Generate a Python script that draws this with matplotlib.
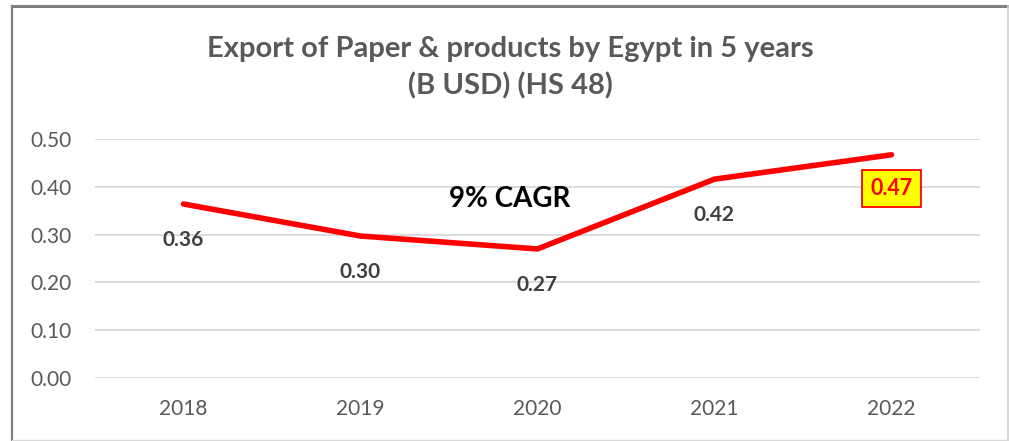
import matplotlib
matplotlib.use("Agg")
import matplotlib.pyplot as plt
from matplotlib.lines import Line2D

years = ["2018", "2019", "2020", "2021", "2022"]
exports = [0.364, 0.297, 0.270, 0.416, 0.467]
y_ticks = [0.0, 0.1, 0.2, 0.3, 0.4, 0.5]

title = "Export of Paper & products by Egypt in 5 years\n(B USD) (HS 48)"
note = "9% CAGR"

W, H = 1009, 441
fig = plt.figure(figsize=(W / 100, H / 100), dpi=100)
plt.rcParams['font.family'] = ['Lato', 'DejaVu Sans']

ax = fig.add_axes([95 / W, 1 - 378 / H, (980 - 95) / W, (378 - 139) / H])
x = list(range(len(years)))
ax.plot(x, exports, color="#ff0000", lw=4.0, solid_capstyle="round",
        solid_joinstyle="miter", zorder=3)

ax.set_xlim(-0.5, len(years) - 0.5)
ax.set_ylim(0, 0.5)
ax.set_yticks(y_ticks)
ax.set_yticklabels([f"{v:.2f}" for v in y_ticks])
ax.set_xticks(x)
ax.set_xticklabels(years)
ax.tick_params(length=0, labelsize=15, colors="#595959")
ax.tick_params(axis="y", pad=17)
ax.tick_params(axis="x", pad=15)
for s in ax.spines.values():
    s.set_visible(False)
ax.grid(axis="y", color="#d9d9d9", lw=1.3)
ax.set_axisbelow(True)

# value labels below each point
for i, v in enumerate(exports):
    if i == len(exports) - 1:
        ax.annotate(f"{v:.2f}", (i, v), xytext=(0, -24.5), textcoords="offset points",
                    ha="center", va="center", fontsize=15.5, fontweight="bold",
                    color="#ff0000",
                    bbox=dict(boxstyle="square,pad=0.38", fc="#ffff00", ec="#ff0000", lw=1.3))
    else:
        ax.annotate(f"{v:.2f}", (i, v), xytext=(0, -26), textcoords="offset points",
                    ha="center", va="center", fontsize=15, fontweight="bold",
                    color="#404040")

fig.text(510 / W, 1 - 199 / H, note, ha="center", va="center", fontsize=20,
         fontweight="bold", color="#000000")
fig.text(510 / W, 1 - 68 / H, title, ha="center", va="center", fontsize=21,
         fontweight="bold", color="#595959", linespacing=1.45)

# chart frame
fig.add_artist(Line2D([12 / W, 1], [1 - 6 / H] * 2, color="#808080", lw=2.2))
fig.add_artist(Line2D([12 / W] * 2, [0, 1 - 6 / H], color="#808080", lw=1.6))
fig.add_artist(Line2D([1008 / W] * 2, [0, 1 - 6 / H], color="#d0d0d0", lw=1.2))
fig.add_artist(Line2D([12 / W, 1], [1.5 / H] * 2, color="#d9d9d9", lw=1.0))

fig.savefig("out.png", dpi=100, facecolor="white")
